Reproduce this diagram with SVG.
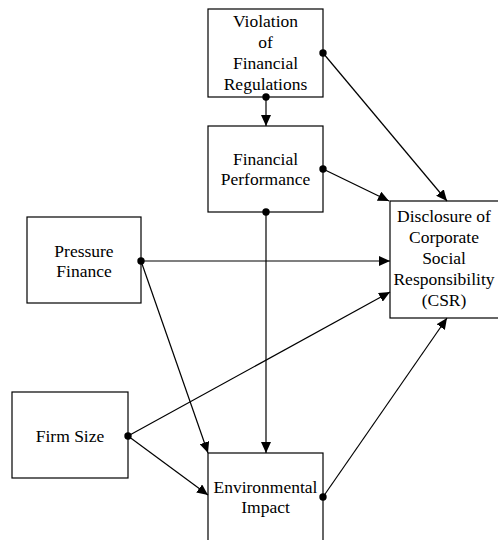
<svg xmlns="http://www.w3.org/2000/svg" width="498" height="540" viewBox="0 0 498 540">
<style>
.box{fill:#fff;stroke:#000;stroke-width:1.2}
.t{font-size:17.5px;fill:#000;text-anchor:middle}
.c{stroke:#000;stroke-width:1.2;fill:none;marker-end:url(#ah)}
.d{fill:#000}
</style>
<defs>
<marker id="ah" markerUnits="userSpaceOnUse" markerWidth="11" markerHeight="10" refX="11" refY="5" orient="auto">
<path d="M0,0 L11,5 L0,10 z" fill="#000"/>
</marker>
</defs>
<rect width="498" height="540" fill="#fff"/>
<g font-family="Liberation Serif, Tinos, 'DejaVu Serif', serif">
<g id="violation">
<rect class="box" x="208" y="9" width="115" height="88"/>
<text class="t" x="265.5" y="27">Violation</text>
<text class="t" x="265.5" y="48">of</text>
<text class="t" x="265.5" y="69">Financial</text>
<text class="t" x="265.5" y="90">Regulations</text>
</g>
<g id="performance">
<rect class="box" x="208" y="126" width="115" height="86"/>
<text class="t" x="265.5" y="165">Financial</text>
<text class="t" x="265.5" y="185">Performance</text>
</g>
<g id="csr">
<rect class="box" x="390" y="201" width="112" height="117"/>
<text class="t" x="444" y="222">Disclosure of</text>
<text class="t" x="444" y="243">Corporate</text>
<text class="t" x="444" y="264">Social</text>
<text class="t" x="444" y="285">Responsibility</text>
<text class="t" x="444" y="306">(CSR)</text>
</g>
<g id="pressure">
<rect class="box" x="27" y="217" width="114" height="86"/>
<text class="t" x="84" y="257">Pressure</text>
<text class="t" x="84" y="277">Finance</text>
</g>
<g id="firmsize">
<rect class="box" x="12" y="392" width="116" height="86"/>
<text class="t" x="70" y="442">Firm Size</text>
</g>
<g id="environmental">
<rect class="box" x="208" y="453" width="115" height="100"/>
<text class="t" x="265.5" y="493">Environmental</text>
<text class="t" x="265.5" y="513">Impact</text>
</g>
</g>
<g id="connectors">
<line class="c" x1="266" y1="97" x2="266" y2="126"/>
<line class="c" x1="323" y1="53" x2="447" y2="201"/>
<line class="c" x1="323" y1="169" x2="389" y2="201"/>
<line class="c" x1="266" y1="212" x2="266" y2="453"/>
<line class="c" x1="141" y1="261" x2="390" y2="261"/>
<line class="c" x1="141" y1="261" x2="208" y2="453"/>
<line class="c" x1="128" y1="436" x2="390" y2="292"/>
<line class="c" x1="128" y1="436" x2="208" y2="495"/>
<line class="c" x1="323" y1="497" x2="447" y2="318"/>
<circle class="d" cx="266" cy="97" r="3.7"/>
<circle class="d" cx="323" cy="53" r="3.7"/>
<circle class="d" cx="323" cy="169" r="3.7"/>
<circle class="d" cx="266" cy="212" r="3.7"/>
<circle class="d" cx="141" cy="261" r="3.7"/>
<circle class="d" cx="128" cy="436" r="3.7"/>
<circle class="d" cx="323" cy="497" r="3.7"/>
</g>
</svg>
